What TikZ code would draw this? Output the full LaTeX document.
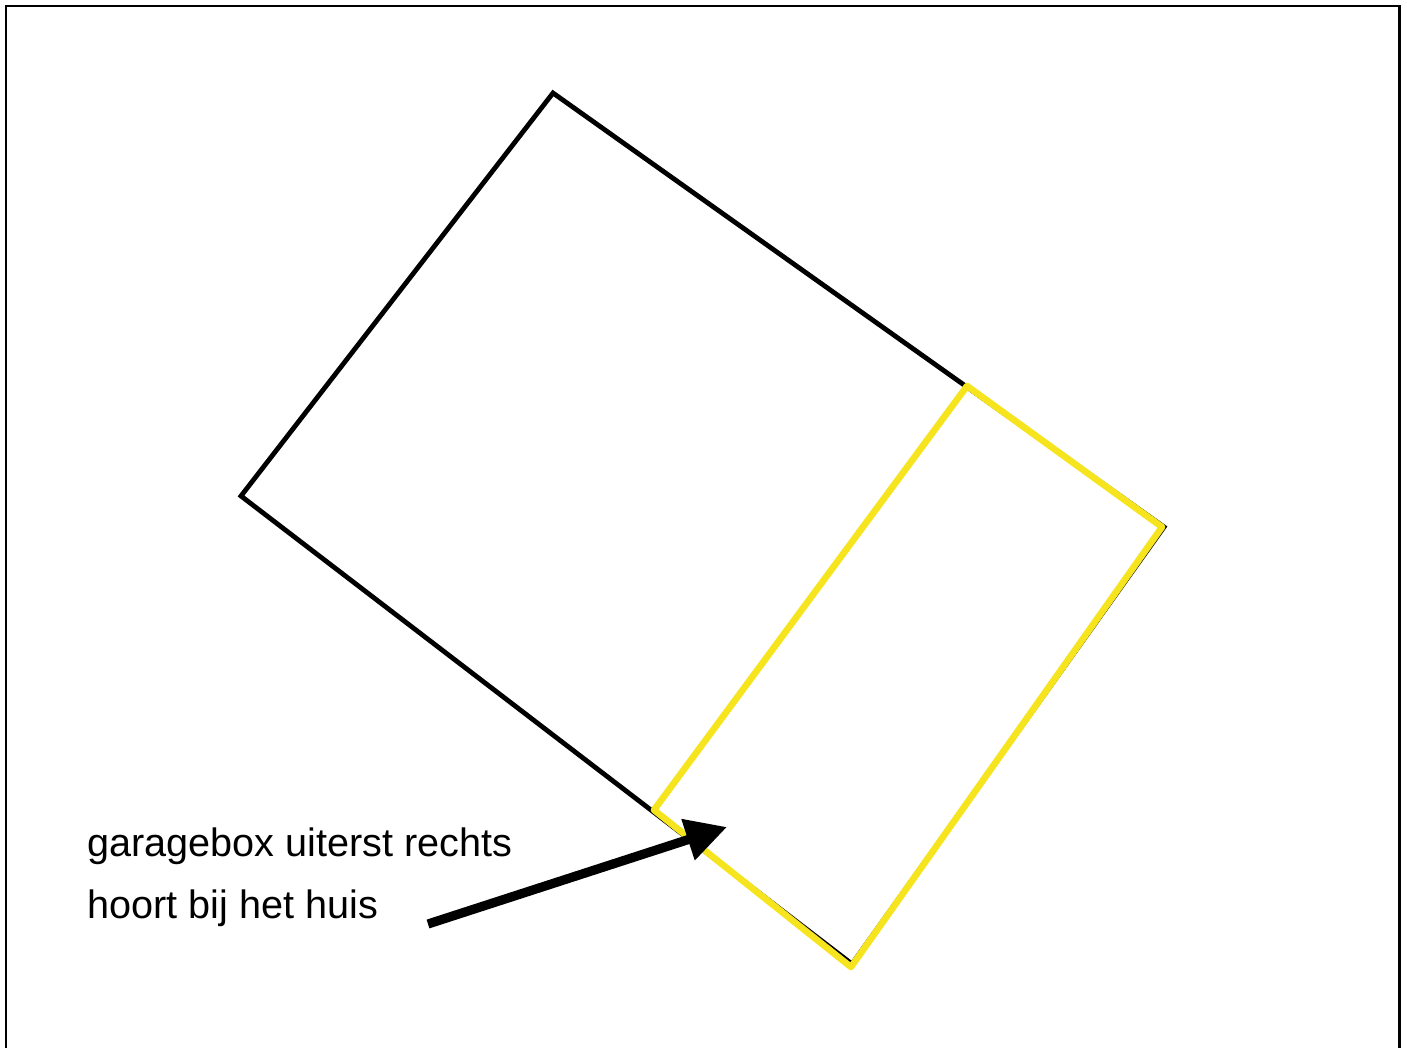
\documentclass[tikz,border=0pt]{standalone}
\usepackage{fontspec}
\setmainfont{Liberation Sans}
\usepackage{tikz}
\usetikzlibrary{arrows.meta,positioning}
\definecolor{garageyellow}{RGB}{245,228,30}
\tikzset{lbl/.style={inner sep=0pt, anchor=base west, font=\fontsize{19.8}{31}\selectfont}}
\tikzstyle{perceel}=[draw=black, line width=2.4pt, line join=miter]
\tikzstyle{garage}=[draw=garageyellow, line width=3.3pt, line join=round]
\tikzstyle{pijl}=[line width=4.6pt, -{Triangle[length=20.5pt,width=20.5pt]}]

\begin{document}
\begin{tikzpicture}[x=0.5pt, y=-0.5pt]
\useasboundingbox (0,0) rectangle (1407,1048);
\draw[line width=1.4pt] (6,1060) -- (6,6) -- (1399.5,6) -- (1399.5,1060);
% kavel
\coordinate (A) at (553,93);
\coordinate (B) at (241,496);
\coordinate (C) at (852,964);
\coordinate (D) at (1164,527);
\draw[perceel] (A) -- (B) -- (C) -- (D) -- cycle;
% garagebox
\coordinate (G1) at (967,386);
\coordinate (G2) at (1162,527);
\coordinate (G3) at (851,967);
\coordinate (G4) at (654,810);
\draw[garage] (G1) -- (G2) -- (G3) -- (G4) -- cycle;
% tekst
\node[lbl] (regel1) at (87,856) {garagebox uiterst rechts};
\node[lbl] (regel2) at (87,918) {hoort bij het huis};
\coordinate (pstart) at (428,924);
\coordinate (ptip) at (727,827);
\draw[pijl] (pstart) -- (ptip);
\end{tikzpicture}
\end{document}
